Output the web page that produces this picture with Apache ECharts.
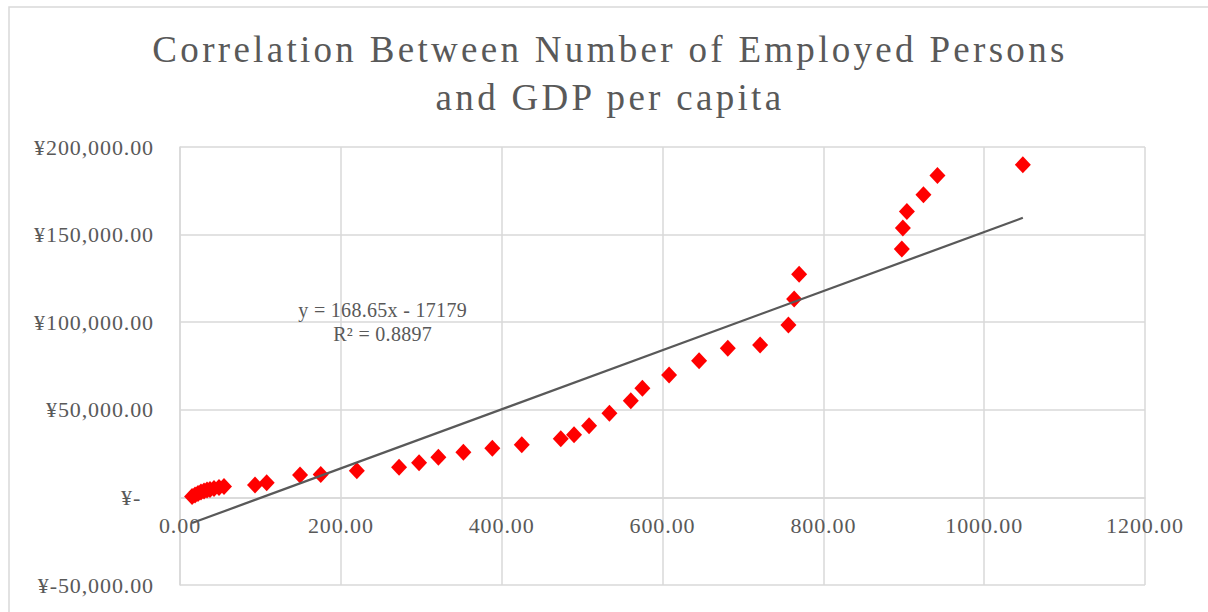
<!DOCTYPE html>
<html>
<head>
<meta charset="utf-8">
<script src="https://cdn.jsdelivr.net/npm/echarts@6/dist/echarts.min.js"></script>
<style>
  html, body { margin: 0; padding: 0; background: #ffffff; }
  #chart { width: 1208px; height: 612px; }
  /* Excel-style tracking on the serif text */
  #chart text[style*="37px"] { letter-spacing: 3.3px; }
  #chart text[style*="22px"] { letter-spacing: 0.9px; }
  #chart text[style*="20px"] { letter-spacing: 0.3px; }
</style>
</head>
<body>
<div id="chart"></div>
<script>
// Number of employed persons (x) and GDP per capita in yuan (y)
const employed = [15, 18.7, 22.4, 26.1, 29.9, 33.6, 37.3, 42.3, 48.5, 54.7,
  93.3, 107.8, 149.3, 175.0, 219.9, 272.4, 297.3, 321.3, 352.4, 388.4,
  425.0, 473.5, 490.0, 508.7, 534.0, 560.6, 575.0, 608.2, 645.5, 681.2,
  721.4, 756.6, 763.7, 769.9, 897.6, 898.9, 903.9, 924.5, 941.9, 1048.1];
const gdpPerCapita = [460, 1310, 2170, 3030, 3600, 4170, 4460, 5030, 5600, 6170,
  7030, 8340, 12740, 13140, 15200, 17140, 19770, 22860, 25710, 28000,
  30060, 33480, 35700, 40910, 48000, 55200, 62280, 69880, 78050, 85140,
  87030, 98450, 113310, 127420, 141710, 153710, 163190, 172730, 183760, 189880];

// Linear trendline as stated in its label
const slope = 168.65;
const intercept = -17179;
const rSquared = 0.8897;

// Axis ticks
const xTicks = [0, 200, 400, 600, 800, 1000, 1200];
const yTicks = [-50000, 0, 50000, 100000, 150000, 200000];

const titleLines = ['Correlation Between Number of Employed Persons', 'and GDP per capita'];

const serif = "'Liberation Serif', 'Times New Roman', serif";
const textGray = '#595959';
const gridGray = '#d9d9d9';

const points = employed.map((x, i) => [x, gdpPerCapita[i]]);
const xMin = Math.min(...employed);
const xMax = Math.max(...employed);
const trend = [xMin, xMax].map(x => [x, slope * x + intercept]);

function yen(v) {
  if (v === 0) return '¥-\u00a0\u00a0';
  const s = Math.abs(v).toLocaleString('en-US', { minimumFractionDigits: 2, maximumFractionDigits: 2 });
  return '¥' + (v < 0 ? '-' : '') + s;
}

// Plot box in pixels; the horizontal axis sits where the value axis crosses zero
const plotTop = 147;
const plotHeight = 438;
const yRange = yTicks[yTicks.length - 1] - yTicks[0];
const zeroShift = -plotHeight * (0 - yTicks[0]) / yRange;

const chart = echarts.init(document.getElementById('chart'), null, { renderer: 'svg' });
chart.setOption({
  animation: false,
  backgroundColor: '#ffffff',
  title: {
    text: titleLines.join('\n'),
    left: 610,
    top: 25,
    textAlign: 'center',
    padding: 0,
    textStyle: {
      fontFamily: serif,
      fontSize: 37,
      fontWeight: 'normal',
      color: textGray,
      lineHeight: 48
    }
  },
  graphic: [{
    type: 'rect',
    silent: true,
    shape: { x: 9, y: 7, width: 1400, height: 800 },
    style: { fill: 'none', stroke: gridGray, lineWidth: 1.5 },
    z: -1
  }],
  grid: {
    left: 180,
    right: 63,
    top: plotTop,
    height: plotHeight,
    containLabel: false,
    outerBoundsMode: 'none'
  },
  xAxis: {
    type: 'value',
    position: 'bottom',
    offset: zeroShift,
    min: xTicks[0],
    max: xTicks[xTicks.length - 1],
    interval: xTicks[1] - xTicks[0],
    axisLine: { show: true, onZero: false, lineStyle: { color: gridGray, width: 1.5 } },
    axisTick: { show: false },
    splitLine: { show: true, lineStyle: { color: gridGray, width: 1.5 } },
    axisLabel: {
      margin: 17,
      fontFamily: serif,
      fontSize: 22,
      lineHeight: 22,
      color: textGray,
      formatter: v => v.toFixed(2)
    }
  },
  yAxis: {
    type: 'value',
    min: yTicks[0],
    max: yTicks[yTicks.length - 1],
    interval: yTicks[2] - yTicks[1],
    axisLine: { show: true, onZero: false, lineStyle: { color: gridGray, width: 1.5 } },
    axisTick: { show: false },
    splitLine: { show: true, lineStyle: { color: gridGray, width: 1.5 } },
    axisLabel: {
      margin: 26,
      fontFamily: serif,
      fontSize: 22,
      color: textGray,
      formatter: yen
    }
  },
  series: [
    {
      type: 'scatter',
      name: 'GDP per capita',
      data: points,
      symbol: 'diamond',
      symbolSize: [16, 17],
      itemStyle: { color: '#ff0000', opacity: 1 },
      z: 2
    },
    {
      type: 'line',
      name: 'Linear trend',
      data: trend,
      showSymbol: false,
      symbol: 'none',
      lineStyle: { color: textGray, width: 2.25 },
      z: 3,
      markPoint: {
        symbol: 'circle',
        symbolSize: 0,
        silent: true,
        data: [{
          coord: [252, 100200],
          label: {
            show: true,
            position: 'inside',
            fontFamily: serif,
            fontSize: 20,
            lineHeight: 23.5,
            color: textGray,
            align: 'center',
            formatter: 'y = ' + slope.toFixed(2) + 'x - ' + Math.abs(intercept) + '\nR² = ' + rSquared.toFixed(4)
          }
        }]
      }
    }
  ]
});
</script>
</body>
</html>
